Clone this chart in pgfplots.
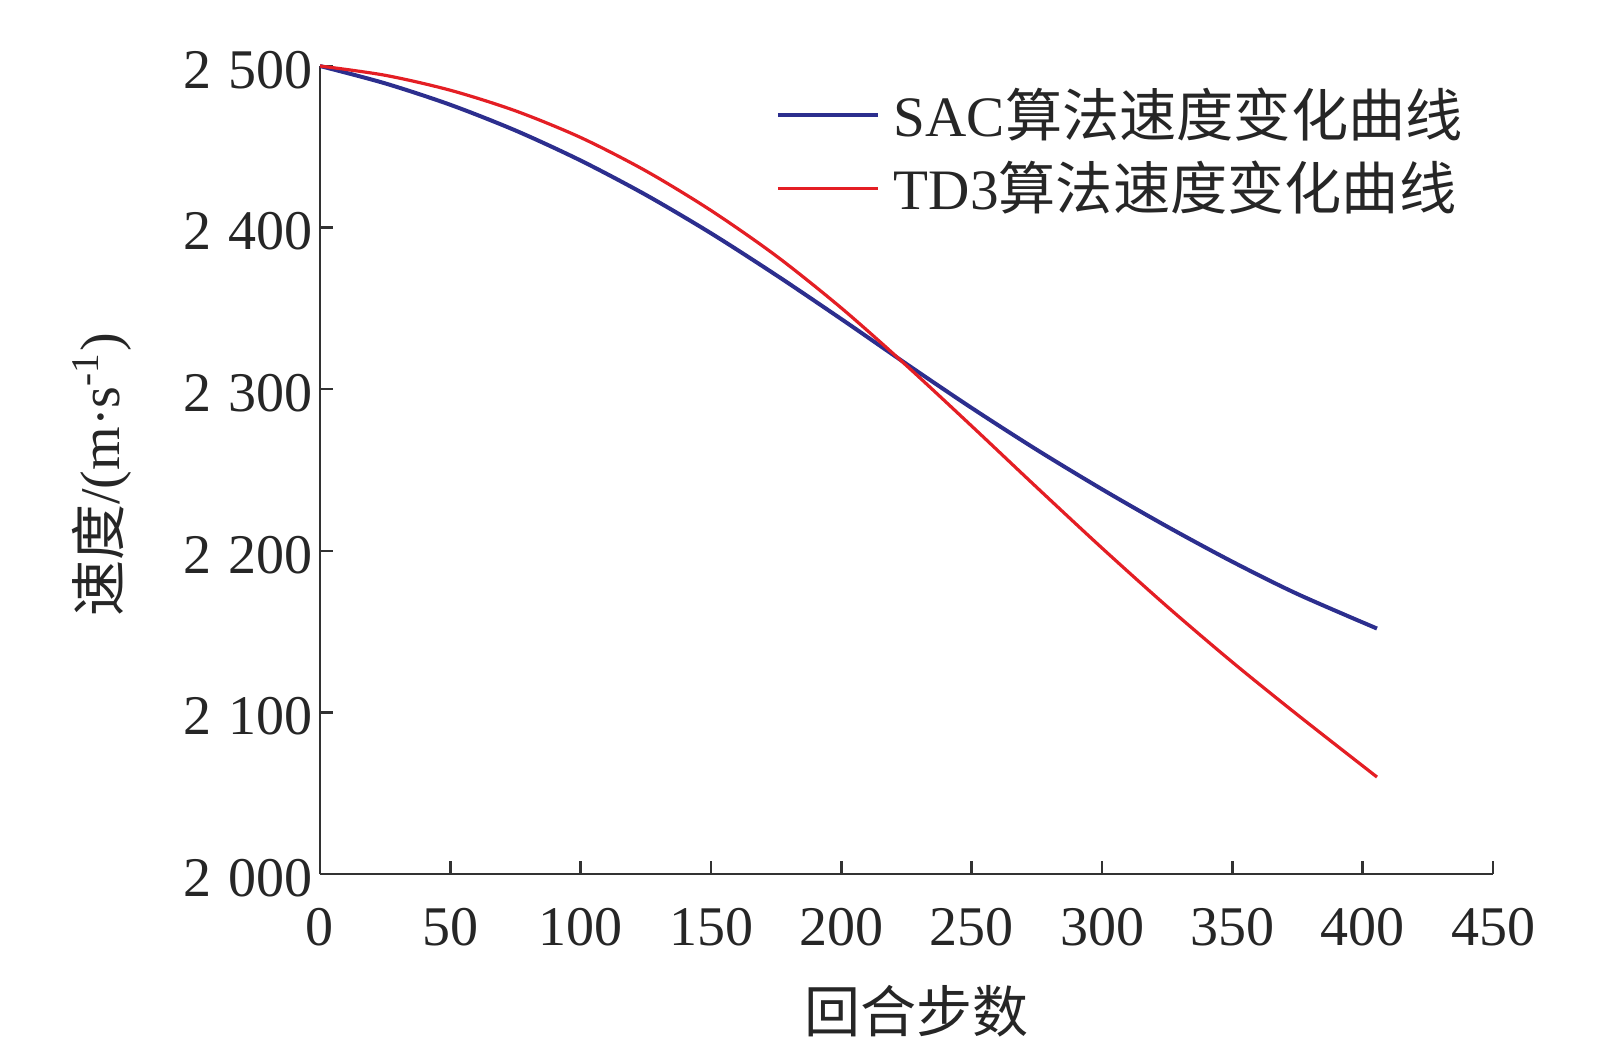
\documentclass[border=0pt]{standalone}
\usepackage{fontspec}
\setmainfont{Liberation Serif}
\newfontfamily\cjk{Noto Sans CJK SC}
\usepackage{pgfplots}
\pgfplotsset{compat=1.18}
\definecolor{sacblue}{RGB}{44,46,142}
\definecolor{tdred}{RGB}{228,30,36}
\definecolor{axgray}{RGB}{50,50,50}
\begin{document}
\begin{tikzpicture}[font=\fontsize{14}{17}\selectfont]
\useasboundingbox (-80pt,-46.5pt) rectangle (323pt,218.5pt);
\begin{axis}[
  at={(0,0)}, anchor=south west,
  scale only axis, width=293.25pt, height=202pt,
  xmin=0, xmax=450, ymin=2000, ymax=2500,
  axis x line*=bottom, axis y line*=left,
  axis line style={axgray, line width=0.6pt},
  tick style={axgray, line width=0.6pt},
  tick align=inside, major tick length=3.2pt,
  xtick={0,50,...,450},
  ytick={2000,2100,...,2500},
  yticklabels={2\hspace{0.3em}000,2\hspace{0.3em}100,2\hspace{0.3em}200,2\hspace{0.3em}300,2\hspace{0.3em}400,2\hspace{0.3em}500},
  /pgf/number format/assume math mode=true,
  xticklabel style={yshift=-5pt, text=black!85},
  yticklabel style={xshift=1.6pt, yshift=-1pt, text=black!85},
  xlabel={{\cjk 回合步数}},
  ylabel={{\cjk 速度}/(m·s\textsuperscript{-1})},
  xlabel style={at={(axis description cs:0.5087,-0.17)}, anchor=center, text=black!85},
  ylabel style={at={(axis description cs:-0.186,0.494)}, anchor=center, text=black!85},
  clip=false,
  legend style={draw=none, fill=none, at={(axis description cs:0.3879,0.8936)}, anchor=west,
    inner xsep=0pt, inner ysep=0pt, row sep=0.6pt, text=black!85,
    font=\fontsize{14.3}{17}\selectfont,
    /tikz/every odd column/.append style={column sep=1.5pt}},
  legend cell align=left,
  legend image code/.code={\draw[#1] (0pt,0pt) -- (25pt,0pt);},
]
\addplot[sacblue, line width=1pt, smooth] coordinates {
(0,2500) (25,2489.25) (50,2476.0) (75,2460.1) (100,2441.5) (125,2420.25)
(150,2396.5) (175,2370.6) (200,2343.4) (225,2315.6) (250,2288.4)
(275,2262.5) (300,2238.1) (325,2215.0) (350,2193.25) (375,2173.25)
(405.5,2151.9)
};
\addlegendentry{SAC{\cjk 算法速度变化曲线}}
\addplot[tdred, line width=0.8pt, smooth] coordinates {
(0,2500) (25,2494.25) (50,2485.0) (75,2472.25) (100,2455.75) (125,2435.1)
(150,2410.6) (175,2382.5) (200,2350.25) (225,2314.6) (250,2277.2)
(275,2239.2) (300,2201.7) (325,2165.5) (350,2131.1) (375,2098.5)
(405.5,2060.0)
};
\addlegendentry{TD3{\cjk 算法速度变化曲线}}
\end{axis}
\end{tikzpicture}
\end{document}
